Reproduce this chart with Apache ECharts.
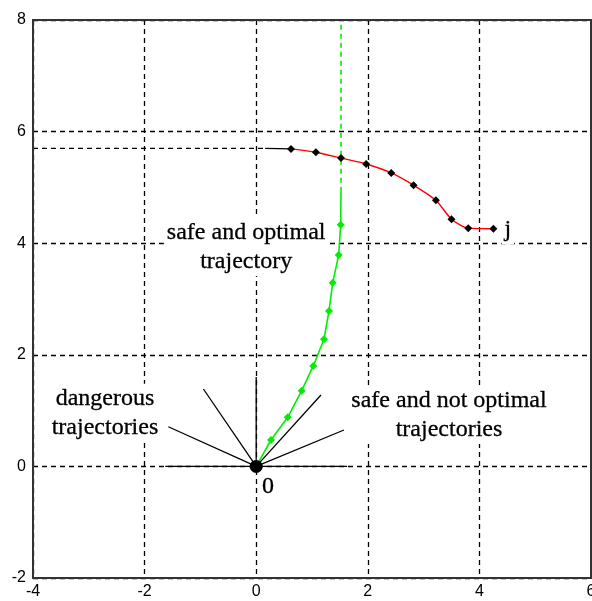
<!DOCTYPE html>
<html><head><meta charset="utf-8">
<script src="https://cdn.jsdelivr.net/npm/echarts@6/dist/echarts.min.js"></script>
<style>html,body{margin:0;padding:0;background:#fff}#c{width:592px;height:601px}</style>
</head><body><div id="c"></div>
<script>
// ---- data ----
const xTicks = [-4, -2, 0, 2, 4, 6];
const yTicks = [-2, 0, 2, 4, 6, 8];
const redPts = [[0.624,5.69],[1.07,5.63],[1.52,5.525],[1.97,5.42],[2.42,5.26],[2.82,5.04],[3.22,4.77],[3.50,4.43],[3.80,4.27],[4.25,4.26]];
const blackStart = [[0.16,5.7],[0.624,5.69]];
const refLine57 = [[-4,5.7],[0.16,5.7]];
const greenPts = [[0,0],[0.265,0.473],[0.565,0.88],[0.815,1.357],[1.023,1.80],[1.215,2.28],[1.305,2.785],[1.371,3.29],[1.478,3.79],[1.514,4.33]];
const greenTail = [[1.514,4.33],[1.52,4.92]];
const greenDashed = [[1.52,4.92],[1.52,8]];
const fanEnds = [[-1.63,0],[-1.575,0.711],[-0.946,1.387],[0,1.6],[1.161,1.28],[1.573,0.652],[1.63,0]];
const origin = [[0,0]];
const labelsText = [
  {text:'safe and optimal\ntrajectory', at:[-0.18,3.93]},
  {text:'dangerous\ntrajectories', at:[-2.71,0.96]},
  {text:'safe and not optimal\ntrajectories', at:[3.455,0.92]},
  {text:'j', at:[4.51,4.24]},
  {text:'0', at:[0.21,-0.37]}
];

const serif = '"Liberation Serif","Times New Roman",serif';
const series = [];
fanEnds.forEach(e => series.push({type:'line', data:[[0,0], e], symbol:'none', lineStyle:{color:'#000', width:1.3}, z:3, silent:true}));
series.push({type:'line', data:refLine57, symbol:'none', lineStyle:{color:'#000', width:1.3, type:[5,4]}, z:3});
series.push({type:'line', data:blackStart, symbol:'none', lineStyle:{color:'#000', width:1.3}, z:3});
series.push({type:'line', data:greenDashed, symbol:'none', lineStyle:{color:'#00ee00', width:1.6, type:[5,4]}, z:4});
series.push({type:'line', data:greenTail, symbol:'none', lineStyle:{color:'#00ee00', width:1.6}, z:4});
series.push({type:'line', data:greenPts, symbol:'diamond', symbolSize:8, showAllSymbol:true,
  itemStyle:{color:'#00ee00'}, lineStyle:{color:'#00ee00', width:1.6}, z:5});
series.push({type:'line', data:redPts, smooth:0.25, symbol:'diamond', symbolSize:8, showAllSymbol:true,
  itemStyle:{color:'#000'}, lineStyle:{color:'#ff0000', width:1.4}, z:5});
series.push({type:'scatter', data:origin, symbol:'circle', symbolSize:13, itemStyle:{color:'#000', opacity:1}, z:6});
series.push({type:'scatter', z:2, symbolSize:0, itemStyle:{opacity:1},
  data: labelsText.map(l => ({value:l.at, label:{formatter:l.text}})),
  label:{show:true, position:'inside', align:'center', verticalAlign:'middle', opacity:1,
    fontFamily:serif, fontSize:24, lineHeight:29, color:'#000',
    textBorderColor:'#000', textBorderWidth:0.3,
    backgroundColor:'#fff', padding:[0,3]}});

const chart = echarts.init(document.getElementById('c'), null, {renderer:'canvas'});
chart.setOption({
  animation:false,
  backgroundColor:'#fff',
  grid:{left:33, right:1, top:20, bottom:23, outerBoundsMode:'none', containLabel:false,
    show:true, borderColor:'#333', borderWidth:2, backgroundColor:'transparent', z:10},
  xAxis:{type:'value', min:xTicks[0], max:xTicks[xTicks.length-1], interval:2,
    axisLine:{show:false}, axisTick:{show:false},
    axisLabel:{color:'#000', fontFamily:'"Liberation Sans",Arial,sans-serif', fontSize:16, margin:6},
    splitLine:{show:true, lineStyle:{color:'#000', width:1.3, type:[5,4]}}},
  yAxis:{type:'value', min:yTicks[0], max:yTicks[yTicks.length-1], interval:2,
    axisLine:{show:false}, axisTick:{show:false},
    axisLabel:{color:'#000', fontFamily:'"Liberation Sans",Arial,sans-serif', fontSize:16, margin:7},
    splitLine:{show:true, lineStyle:{color:'#000', width:1.3, type:[5,4]}}},
  series: series
});
</script></body></html>
